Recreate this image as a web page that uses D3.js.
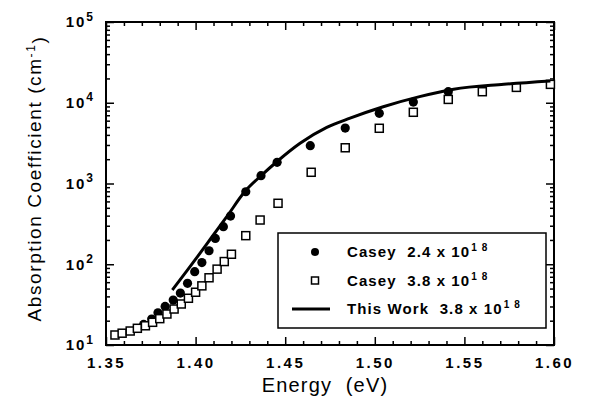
<!DOCTYPE html>
<html>
<head>
<meta charset="utf-8">
<script src="https://cdn.jsdelivr.net/npm/d3@7"></script>
<style>
  body { margin: 0; background: #fff; }
  svg { display: block; font-family: "Liberation Sans", Arial, sans-serif; }
</style>
</head>
<body>
<div id="chart"></div>
<script>
// Casey 2.4 x 10^18 (filled circles)
var circE = [1.371, 1.3755, 1.379, 1.383, 1.3875, 1.3915, 1.3955, 1.3995, 1.4035, 1.4075, 1.411, 1.4155, 1.4195, 1.428, 1.4365, 1.4455, 1.464, 1.4835, 1.5025, 1.5215, 1.541];
var circA = [18, 21, 25, 30, 36, 44, 58, 81, 105, 147, 209, 292, 395, 790, 1250, 1830, 2940, 4860, 7400, 10200, 13700];

// Casey 3.8 x 10^18 (open squares)
var sqE = [1.355, 1.359, 1.3635, 1.3675, 1.372, 1.376, 1.380, 1.384, 1.388, 1.392, 1.396, 1.400, 1.4035, 1.4075, 1.412, 1.416, 1.420, 1.428, 1.436, 1.446, 1.4645, 1.4835, 1.5025, 1.5215, 1.541, 1.560, 1.579, 1.598];
var sqA = [13.3, 14, 14.9, 16.1, 17.3, 19.1, 21.2, 24.2, 27.9, 32.2, 37.9, 45, 54, 68, 87, 108, 133, 226, 353, 569, 1377, 2770, 4830, 7620, 11000, 13700, 15500, 16900];

// This Work 3.8 x 10^18 (line)
var lineE = [1.387, 1.395, 1.4025, 1.409, 1.4174, 1.4276, 1.4369, 1.4453, 1.4583, 1.4732, 1.4862, 1.5047, 1.525, 1.544, 1.572, 1.598];
var lineA = [48, 82, 137, 216, 388, 800, 1270, 1860, 3150, 4950, 6450, 8930, 11900, 14700, 16900, 18600];

var xMajor = [1.35, 1.40, 1.45, 1.50, 1.55, 1.60];
var xMinor = [1.36, 1.37, 1.38, 1.39, 1.41, 1.42, 1.43, 1.44, 1.46, 1.47, 1.48, 1.49, 1.51, 1.52, 1.53, 1.54, 1.56, 1.57, 1.58, 1.59];
var yMajor = [10, 100, 1000, 10000, 100000];
var yExp = ["1", "2", "3", "4", "5"];

var legendLabels = ["Casey  2.4 x 10", "Casey  3.8 x 10", "This Work  3.8 x 10"];
var legendSup = ["1 8", "1 8", "1 8"];

var margin = {top: 22, right: 35, bottom: 59, left: 106},
width = 589 - margin.left - margin.right,
height = 404 - margin.top - margin.bottom;

var svg = d3.select("#chart")
.append("svg")
.attr("width", 589)
.attr("height", 404)
.append("g")
.attr("transform", "translate(" + margin.left + "," + margin.top + ")");

var x = d3.scaleLinear().domain([1.35, 1.60]).range([0, width]);
var y = d3.scaleLog().domain([10, 100000]).range([height, 0]);

// minor y ticks 2..9 per decade
var yMinor = [];
yMajor.slice(0, 4).forEach(function(d) {
  for (var k = 2; k <= 9; k++) yMinor.push(d * k);
});

// frame-side ticks (inward)
function tickAxes(g, axisFn, scale, vals, size, tr) {
  g.append("g")
  .attr("class", "axis")
  .attr("transform", tr)
  .call(axisFn(scale).tickValues(vals).tickSize(-size).tickFormat(""));
}

tickAxes(svg, d3.axisBottom, x, xMinor, 4, "translate(0," + height + ")");
tickAxes(svg, d3.axisTop, x, xMinor, 4, "translate(0,0)");
tickAxes(svg, d3.axisTop, x, xMajor, 8, "translate(0,0)");
tickAxes(svg, d3.axisLeft, y, yMinor, 4, "translate(0,0)");
tickAxes(svg, d3.axisRight, y, yMinor, 4, "translate(" + width + ",0)");
tickAxes(svg, d3.axisRight, y, yMajor, 8, "translate(" + width + ",0)");

var xAxis = svg.append("g")
.attr("class", "axis")
.attr("transform", "translate(0," + height + ")")
.call(d3.axisBottom(x).tickValues(xMajor).tickSize(-8).tickPadding(12).tickFormat(d3.format(".2f")));

xAxis.selectAll("text")
.attr("fill", "#000")
.style("font-size", "15px")
.style("font-weight", "bold")
.style("letter-spacing", "2.5px");

var yAxis = svg.append("g")
.attr("class", "axis")
.call(d3.axisLeft(y).tickValues(yMajor).tickSize(-8).tickPadding(13).tickFormat(function() { return ""; }));

yAxis.selectAll("text")
.attr("fill", "#000")
.style("font-size", "15px")
.style("font-weight", "bold")
.each(function(d, i) {
  var t = d3.select(this);
  t.append("tspan").style("letter-spacing", "2px").text("10");
  t.append("tspan").attr("dy", "-0.55em").style("font-size", "12px").text(yExp[i]);
});

svg.selectAll(".axis path").attr("stroke", "none");
svg.selectAll(".axis line").attr("stroke", "#000").attr("stroke-width", 1.5);

// frame
svg.append("rect")
.attr("width", width)
.attr("height", height)
.attr("fill", "none")
.attr("stroke", "#000")
.attr("stroke-width", 2);

// circles
svg.selectAll("circle.c24")
.data(circE)
.enter().append("circle")
.attr("class", "c24")
.attr("cx", function(d) { return x(d); })
.attr("cy", function(d, i) { return y(circA[i]); })
.attr("r", 4.6)
.attr("fill", "#000");

// squares
svg.selectAll("rect.c38")
.data(sqE)
.enter().append("rect")
.attr("class", "c38")
.attr("x", function(d) { return x(d) - 4; })
.attr("y", function(d, i) { return y(sqA[i]) - 4; })
.attr("width", 8)
.attr("height", 8)
.attr("fill", "#fff")
.attr("stroke", "#000")
.attr("stroke-width", 1.5);

var line = d3.line()
.x(function(d) { return x(d); })
.y(function(d, i) { return y(lineA[i]); })
.curve(d3.curveMonotoneX);

svg.append("path")
.datum(lineE)
.attr("d", line)
.attr("fill", "none")
.attr("stroke", "#000")
.attr("stroke-width", 3);

// legend
var legend = svg.append("g")
.attr("transform", "translate(172,211)");

legend.append("rect")
.attr("width", 268)
.attr("height", 95)
.attr("fill", "#fff")
.attr("stroke", "#000")
.attr("stroke-width", 1.5);

var rows = legend.selectAll("g.row")
.data(legendLabels)
.enter().append("g")
.attr("class", "row")
.attr("transform", function(d, i) { return "translate(0," + (19 + i * 28.5) + ")"; });

rows.filter(function(d, i) { return i === 0; })
.append("circle").attr("cx", 37).attr("r", 4).attr("fill", "#000");
rows.filter(function(d, i) { return i === 1; })
.append("rect").attr("x", 33.5).attr("y", -3.5).attr("width", 7).attr("height", 7)
.attr("fill", "#fff").attr("stroke", "#000").attr("stroke-width", 1.5);
rows.filter(function(d, i) { return i === 2; })
.append("line").attr("x1", 14).attr("x2", 52).attr("stroke", "#000").attr("stroke-width", 3);

var lt = rows.append("text")
.attr("x", 69)
.attr("y", 5)
.attr("xml:space", "preserve")
.attr("fill", "#000")
.style("font-size", "15px")
.style("font-weight", "bold")
.style("letter-spacing", "1.1px")
.style("white-space", "pre");
lt.append("tspan").text(function(d) { return d; });
lt.append("tspan").attr("dy", "-0.6em").attr("dx", 1).style("font-size", "10px").text(function(d, i) { return legendSup[i]; });

// axis titles
svg.append("text")
.attr("x", width / 2 - 5)
.attr("y", height + 47)
.attr("text-anchor", "middle")
.attr("xml:space", "preserve")
.attr("fill", "#000")
.style("font-size", "20px")
.style("letter-spacing", "1.2px")
.style("white-space", "pre")
.text("Energy  (eV)");

var yt = svg.append("text")
.attr("transform", "translate(-65," + (height / 2 - 5) + ") rotate(-90)")
.attr("text-anchor", "middle")
.attr("fill", "#000")
.style("font-size", "19px")
.style("letter-spacing", "1.6px");
yt.append("tspan").text("Absorption Coefficient (cm");
yt.append("tspan").attr("dy", "-0.5em").style("font-size", "12px").text("-1");
yt.append("tspan").attr("dy", "0.5em").text(")");
</script>
</body>
</html>
